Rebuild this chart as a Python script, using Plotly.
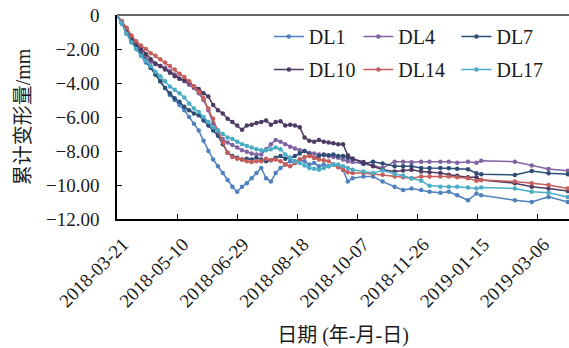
import pandas as pd
import plotly.graph_objects as go

start_date = "2018-03-21"
day_offsets = [0, 4, 8, 12, 16, 20, 24, 28, 32, 36, 40, 44, 48, 52, 56, 60, 64, 68, 72, 76,
               80, 84, 88, 92, 96, 100, 104, 108, 112, 116, 120, 124, 128, 132, 136, 140, 144,
               148, 152, 156, 160, 164, 168, 172, 176, 180, 184, 188, 192,
               196, 205, 213, 221, 231, 238, 245, 253, 260, 269, 276, 283, 292, 299, 303,
               331, 345, 359, 375]

DL1 = [0, -0.5, -1.1, -1.6, -2.0, -2.4, -2.8, -3.1, -3.5, -3.9, -4.3, -4.7, -5.0, -5.3, -5.6,
       -6.0, -6.4, -6.8, -7.4, -8.0, -8.5, -8.9, -9.3, -9.7, -10.1, -10.4, -10.1, -9.9, -9.6,
       -9.3, -9.0, -9.6, -9.8, -9.3, -9.0, -8.8, -8.6, -8.7, -8.5, -8.6, -8.8, -8.7, -8.9,
       -8.8, -8.9, -8.8, -8.9, -9.1, -9.8,
       -9.6, -9.5, -9.5, -9.8, -10.1, -10.3, -10.2, -10.3, -10.4, -10.45, -10.4, -10.6,
       -10.9, -10.5, -10.6, -10.9, -11.0, -10.7, -11.0]
DL4 = [0, -0.4, -0.9, -1.4, -1.8, -2.2, -2.5, -2.75, -2.9, -3.0, -3.1, -3.3, -3.5, -3.75,
       -3.9, -4.1, -4.3, -4.6, -5.0, -5.6, -6.4, -7.0, -7.3, -7.5, -7.65, -7.8, -7.95, -8.05,
       -8.15, -8.2, -8.2, -7.9, -7.6, -7.35, -7.45, -7.6, -7.75, -7.85, -7.95, -8.0, -8.1,
       -8.15, -8.2, -8.25, -8.3, -8.35, -8.4, -8.5, -8.6,
       -8.65, -8.75, -8.85, -9.0, -8.63, -8.63, -8.66, -8.63, -8.63, -8.63, -8.63, -8.69,
       -8.63, -8.69, -8.57, -8.63, -8.86, -9.06, -9.16]
DL7 = [0, -0.5, -1.0, -1.5, -1.9, -2.3, -2.7, -3.1, -3.5, -3.9, -4.3, -4.6, -4.9, -5.1, -5.4,
       -5.6, -5.8, -5.9, -6.2, -6.5, -6.8, -7.1, -7.6, -8.1, -8.3, -8.4, -8.5, -8.45, -8.5,
       -8.4, -8.5, -8.6, -8.55, -8.4, -8.3, -8.45, -8.4, -8.3, -8.15, -8.0, -8.2, -8.4, -8.3,
       -8.2, -8.25, -8.2, -8.3, -8.3, -8.4,
       -8.45, -8.75, -8.63, -8.73, -8.9, -8.9, -8.9, -9.0, -9.0, -9.0, -9.02, -9.05, -9.08,
       -9.31, -9.37, -9.41, -9.18, -9.31, -9.37]
DL10 = [0, -0.45, -0.9, -1.3, -1.7, -2.0, -2.3, -2.6, -2.85, -3.0, -3.2, -3.4, -3.6, -3.75,
        -3.85, -3.95, -4.2, -4.35, -4.6, -4.8, -5.3, -5.6, -5.8, -6.1, -6.3, -6.5, -6.75,
        -6.5, -6.45, -6.35, -6.3, -6.2, -6.45, -6.3, -6.25, -6.5, -6.45, -6.5, -6.6, -7.2,
        -7.4, -7.45, -7.35, -7.45, -7.5, -7.55, -7.6, -7.6, -8.25,
        -8.45, -8.65, -8.9, -9.1, -9.2, -9.15, -9.1, -9.2, -9.25, -9.3, -9.4, -9.45, -9.55,
        -9.55, -9.7, -9.9, -10.1, -10.2, -10.35]
DL14 = [0, -0.35, -0.75, -1.2, -1.55, -1.8, -2.0, -2.25, -2.4, -2.6, -2.8, -3.0, -3.2, -3.45,
        -3.65, -3.9, -4.2, -4.5, -4.9, -5.5, -6.1, -6.8, -7.5, -8.1, -8.35, -8.45, -8.5, -8.6,
        -8.65, -8.6, -8.6, -8.45, -8.55, -8.5, -8.6, -8.8, -8.9, -8.7, -8.5, -8.35, -8.3,
        -8.4, -8.5, -8.55, -8.6, -8.8, -8.95, -9.1, -9.25,
        -9.3, -9.3, -9.35, -9.4, -9.5, -9.55, -9.6, -9.5, -9.5, -9.5, -9.5, -9.55, -9.6,
        -9.75, -9.7, -9.8, -9.9, -10.0, -10.2]
DL17 = [0, -0.5, -1.1, -1.6, -2.0, -2.4, -2.7, -3.0, -3.35, -3.6, -3.9, -4.2, -4.4, -4.6,
        -4.85, -5.2, -5.5, -5.7, -6.0, -6.3, -6.6, -6.8, -7.0, -7.2, -7.3, -7.45, -7.6, -7.7,
        -7.8, -7.9, -7.95, -7.95, -7.9, -7.8, -7.9, -8.2, -8.4, -8.6, -8.7, -8.85, -9.0,
        -9.05, -9.1, -9.0, -8.9, -8.8, -8.8, -8.9, -9.0,
        -9.1, -9.2, -9.3, -9.15, -9.35, -9.45, -9.6, -9.75, -10.05, -10.1, -10.1, -10.1,
        -10.15, -10.2, -10.15, -10.2, -10.4, -10.45, -10.7]

series_names = ["DL1", "DL4", "DL7", "DL10", "DL14", "DL17"]
series_values = [DL1, DL4, DL7, DL10, DL14, DL17]
series_colors = ["#4F81BD", "#8064A2", "#2C4D75", "#4D3B62", "#C65D5A", "#4BACC6"]
series_legend = ["legend", "legend2", "legend3", "legend", "legend2", "legend3"]

x_tick_labels = ["2018-03-21", "2018-05-10", "2018-06-29", "2018-08-18", "2018-10-07",
                 "2018-11-26", "2019-01-15", "2019-03-06"]
y_tick_vals = [0, -2, -4, -6, -8, -10, -12]
y_tick_text = ["0", "\u22122.00", "\u22124.00", "\u22126.00", "\u22128.00", "\u221210.00", "\u221212.00"]
x_end = "2019-04-01"

dates = pd.Timestamp(start_date) + pd.to_timedelta(day_offsets, unit="D")

FONT = "Liberation Serif, Noto Sans CJK SC, serif"

fig = go.Figure()
for name, vals, col, lg in zip(series_names, series_values, series_colors, series_legend):
    fig.add_trace(go.Scatter(
        x=dates, y=vals, name=name, mode="lines+markers",
        line=dict(color=col, width=1.5),
        marker=dict(color=col, size=4.5),
        legend=lg, legendgroup=name,
    ))

legend_common = dict(font=dict(family=FONT, size=20, color="#1a1a1a"),
                     bgcolor="rgba(0,0,0,0)", orientation="v", yanchor="top",
                     xanchor="left", tracegroupgap=4, itemwidth=30)
fig.update_layout(
    width=569, height=348,
    margin=dict(l=117, r=0, t=15, b=129, autoexpand=False),
    paper_bgcolor="white", plot_bgcolor="white",
    font=dict(family=FONT, size=20, color="#1a1a1a"),
    showlegend=True,
    legend=dict(x=0.336, y=0.99, **legend_common),
    legend2=dict(x=0.534, y=0.99, **legend_common),
    legend3=dict(x=0.751, y=0.99, **legend_common),
    xaxis=dict(
        type="date", range=[start_date, x_end], automargin=False,
        tickvals=x_tick_labels, ticktext=x_tick_labels, tickangle=-45,
        ticks="inside", ticklen=5, tickcolor="#000", tickwidth=1,
        showline=True, linecolor="#000", linewidth=1.5,
        showgrid=False, zeroline=False,
        tickfont=dict(family=FONT, size=19, color="#1a1a1a"),
        ticklabelstandoff=5, ticklabelshift=6,
        title=dict(text="日期 (年-月-日)", font=dict(family=FONT, size=20, color="#1a1a1a"), standoff=18),
    ),
    yaxis=dict(
        range=[-12, 0], tickvals=y_tick_vals, ticktext=y_tick_text, automargin=False,
        ticks="inside", ticklen=5, tickcolor="#000", tickwidth=1,
        showline=True, linecolor="#000", linewidth=1.5,
        showgrid=False, zeroline=True, zerolinecolor="#666", zerolinewidth=1.5,
        tickfont=dict(family=FONT, size=19, color="#1a1a1a"),
        ticklabelstandoff=12,
        title=dict(text="累计变形量/mm", font=dict(family=FONT, size=20, color="#1a1a1a"), standoff=10),
    ),
)

fig.write_html("out.html", config={"displayModeBar": False},
               post_script="document.body.style.margin='0';document.body.style.overflow='hidden';")
